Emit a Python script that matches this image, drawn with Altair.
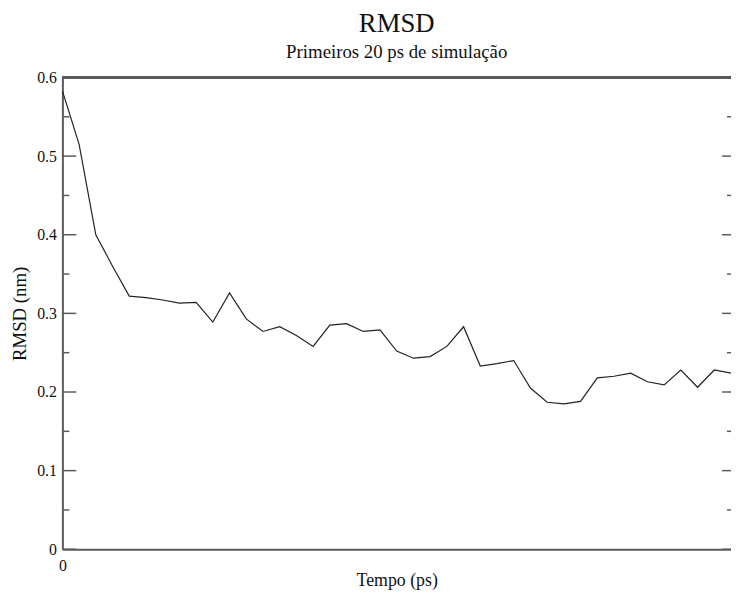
import altair as alt
import pandas as pd

# ---- data ----
time_ps = [0.0, 0.5, 1.0, 1.5, 2.0, 2.5, 3.0, 3.5, 4.0, 4.5,
           5.0, 5.5, 6.0, 6.5, 7.0, 7.5, 8.0, 8.5, 9.0, 9.5,
           10.0, 10.5, 11.0, 11.5, 12.0, 12.5, 13.0, 13.5, 14.0, 14.5,
           15.0, 15.5, 16.0, 16.5, 17.0, 17.5, 18.0, 18.5, 19.0, 19.5, 20.0]
rmsd_nm = [0.583, 0.515, 0.400, 0.360, 0.322, 0.320, 0.317, 0.313, 0.314, 0.289,
           0.326, 0.293, 0.277, 0.283, 0.272, 0.258, 0.285, 0.287, 0.277, 0.279,
           0.252, 0.243, 0.245, 0.258, 0.283, 0.233, 0.236, 0.240, 0.205, 0.187,
           0.185, 0.188, 0.218, 0.220, 0.224, 0.213, 0.209, 0.228, 0.206, 0.228, 0.224]
y_major = [0.0, 0.1, 0.2, 0.3, 0.4, 0.5, 0.6]
y_minor = [0.05, 0.15, 0.25, 0.35, 0.45, 0.55]
x_ticks = [0]

W, H = 676, 477
FONT = "Liberation Serif, Times New Roman, serif"
AX = "#5a5a5a"

df = pd.DataFrame({"t": time_ps, "r": rmsd_nm})
maj = pd.DataFrame({"v": y_major})
mnr = pd.DataFrame({"v": y_minor})

xs = alt.Scale(domain=[0, 20], nice=False, zero=False)
ys = alt.Scale(domain=[0, 0.6], nice=False)

line = alt.Chart(df).mark_line(color="#222222", strokeWidth=1.2).encode(
    x=alt.X("t:Q", scale=xs, axis=alt.Axis(
        values=x_ticks, ticks=False, grid=False, labelFlush=False,
        domainColor=AX, domainWidth=2, labelFont=FONT, labelFontSize=16,
        labelColor="#111", labelPadding=8,
        title="Tempo (ps)", titleFont=FONT, titleFontSize=18,
        titleFontWeight="normal", titleColor="#111",
        titleX=W / 2, titleY=32, titleBaseline="middle", titleAlign="center")),
    y=alt.Y("r:Q", scale=ys, axis=alt.Axis(
        values=y_major, format="~g", ticks=False, grid=False, labelFlush=False,
        domainColor=AX, domainWidth=2, labelFont=FONT, labelFontSize=16,
        labelColor="#111", labelPadding=6, labelBaseline="middle",
        title="RMSD (nm)", titleFont=FONT, titleFontSize=19,
        titleFontWeight="normal", titleColor="#111", titleAngle=270,
        titleX=-43, titleY=H / 2, titleBaseline="middle", titleAlign="center")),
)

left_major = alt.Chart(maj).mark_rule(color=AX, strokeWidth=1.5).encode(
    y=alt.Y("v:Q", scale=ys), x=alt.value(0), x2=alt.value(14))
left_minor = alt.Chart(mnr).mark_rule(color=AX, strokeWidth=1.5).encode(
    y=alt.Y("v:Q", scale=ys), x=alt.value(0), x2=alt.value(7))
right_major = alt.Chart(maj).mark_rule(color=AX, strokeWidth=1.5).encode(
    y=alt.Y("v:Q", scale=ys), x=alt.value(W - 9), x2=alt.value(W))
right_minor = alt.Chart(mnr).mark_rule(color=AX, strokeWidth=1.5).encode(
    y=alt.Y("v:Q", scale=ys), x=alt.value(W - 4), x2=alt.value(W))
top_border = alt.Chart(maj).mark_rule(color=AX, strokeWidth=2).encode(
    y=alt.value(0), x=alt.value(0), x2=alt.value(W))

chart = alt.layer(
    left_major, left_minor, right_major, right_minor, top_border, line
).properties(
    width=W, height=H,
    padding={"left": 55, "top": 67, "right": 0, "bottom": 44},
    autosize=alt.AutoSizeParams(type="none"),
    title=alt.TitleParams(
        "RMSD", subtitle="Primeiros 20 ps de simulação",
        font=FONT, fontSize=27, fontWeight="normal", color="#111",
        subtitleFont=FONT, subtitleFontSize=19, subtitleColor="#111",
        subtitlePadding=5, anchor="middle", offset=7),
).configure_view(stroke=None)

chart.save("out.html", embed_options={"renderer": "svg", "actions": False})
